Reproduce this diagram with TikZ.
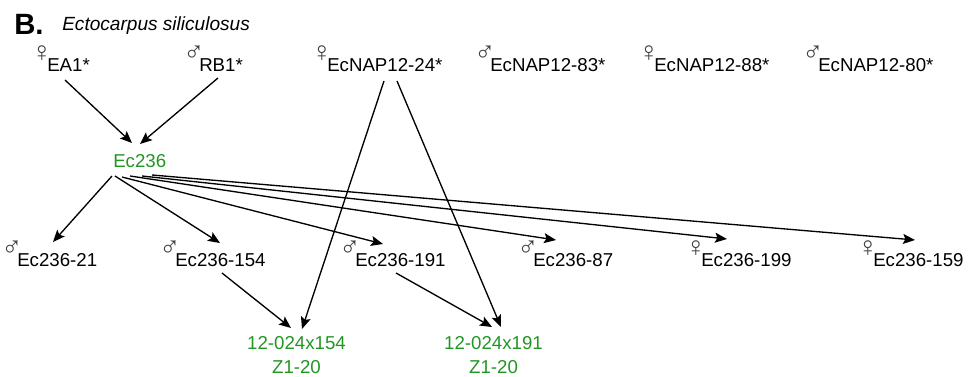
\documentclass[tikz,border=0pt]{standalone}
\usepackage{fontspec}
\setmainfont{Liberation Sans}
\usetikzlibrary{arrows.meta,calc}
\definecolor{lgreen}{RGB}{34,150,34}
\newcommand{\symglyph}[1]{\llap{\makebox[12pt][l]{\raisebox{7.8pt}{\fontsize{21}{21}\selectfont\color{black!75}#1}}}}
\newcommand{\fem}{\symglyph{♀}}
\newcommand{\mal}{\symglyph{♂}}
\begin{document}
\begin{tikzpicture}[x=0.75pt,y=-0.75pt,
  lbl/.style={inner sep=0pt, anchor=base west, font=\fontsize{14}{18}\selectfont},
  grn/.style={inner sep=0pt, anchor=base, align=center, text=lgreen, font=\fontsize{14}{18}\selectfont},
  arr/.style={-{Stealth[length=9pt,width=7.5pt,inset=1.8pt]}, line width=1pt}]
\useasboundingbox (0,0) rectangle (968,377);
% title
\node[inner sep=0pt, anchor=base west, font=\fontsize{22}{24}\selectfont\bfseries] (B) at (14,35) {B.};
\node[inner sep=0pt, anchor=base west, font=\fontsize{14.3}{18}\selectfont\itshape] (title) at (62,31) {Ectocarpus siliculosus};
% top row
\node[lbl] (ea1) at (47,72) {\fem EA1*};
\node[lbl] (rb1) at (199,72) {\mal RB1*};
\node[lbl] (n24) at (327,72) {\fem EcNAP12-24*};
\node[lbl] (n83) at (490,72) {\mal EcNAP12-83*};
\node[lbl] (n88) at (654,72) {\fem EcNAP12-88*};
\node[lbl] (n80) at (818,72) {\mal EcNAP12-80*};
% middle
\node[lbl, text=lgreen] (ec) at (113,168) {Ec236};
% row 2
\node[lbl] (e21) at (17,267) {\mal Ec236-21};
\node[lbl] (e154) at (175,267) {\mal Ec236-154};
\node[lbl] (e191) at (355,267) {\mal Ec236-191};
\node[lbl] (e87) at (533,267) {\mal Ec236-87};
\node[lbl] (e199) at (701,267) {\fem Ec236-199};
\node[lbl] (e159) at (873,267) {\fem Ec236-159};
% bottom (base anchor = baseline of last line)
\node[grn] (x154) at (296.5,374) {12-024x154\\Z1-20};
\node[grn] (x191) at (493.5,374) {12-024x191\\Z1-20};
% arrows
\draw[arr] ($(ea1.base west)+(18,8)$) -- ($(ec.base west)+(19,-25)$);
\draw[arr] ($(rb1.base west)+(19,6)$) -- ($(ec.base west)+(27,-24)$);
\draw[arr] ($(n24.base west)+(57,9)$) -- ($(x154.base)+(5.5,-45)$);
\draw[arr] ($(n24.base west)+(70,9)$) -- ($(x191.base)+(7.5,-47)$);
\draw[arr] ($(ec.base west)+(-1,8)$) -- ($(e21.base west)+(36,-25)$);
\draw[arr] ($(ec.base west)+(2,8)$) -- ($(e154.base west)+(45,-24)$);
\draw[arr] ($(ec.base west)+(9,9)$) -- ($(e191.base west)+(28,-23)$);
\draw[arr] ($(ec.base west)+(17,8)$) -- ($(e87.base west)+(23,-27)$);
\draw[arr] ($(ec.base west)+(29,8)$) -- ($(e199.base west)+(26,-28)$);
\draw[arr] ($(ec.base west)+(39,7)$) -- ($(e159.base west)+(42,-27)$);
\draw[arr] ($(e154.base west)+(47,6)$) -- ($(x154.base)+(-5.5,-46)$);
\draw[arr] ($(e191.base west)+(41,6)$) -- ($(x191.base)+(-1.5,-47)$);
\end{tikzpicture}
\end{document}
